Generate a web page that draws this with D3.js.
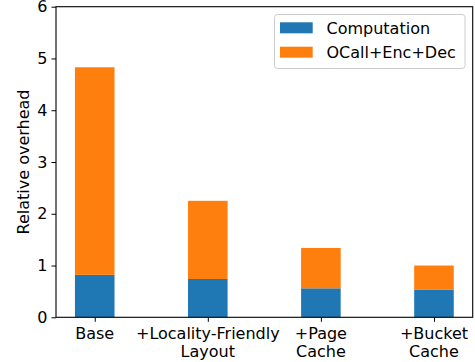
<!DOCTYPE html>
<html>
<head>
<meta charset="utf-8">
<script src="https://cdn.jsdelivr.net/npm/d3@7"></script>
<style>
  html, body { margin: 0; padding: 0; background: #fff; }
  svg { display: block; font-family: "DejaVu Sans", sans-serif; }
</style>
</head>
<body>
<svg id="chart" width="475" height="362"></svg>
<script>
// Stacked overhead breakdown per optimisation step
const categories = ["Base", "+Locality-Friendly\nLayout", "+Page\nCache", "+Bucket\nCache"];
const computation = [0.82, 0.74, 0.56, 0.53];
const ocallEncDec = [4.01, 1.51, 0.78, 0.47];
const seriesNames = ["Computation", "OCall+Enc+Dec"];
const seriesColors = ["#1f77b4", "#ff7f0e"];
const yTicks = [0, 1, 2, 3, 4, 5, 6];

const svg = d3.select("#chart");
const plot = { left: 56, right: 472.7, top: 6.7, bottom: 317.3 };
const barWidth = 0.35;
const n = categories.length;
const pad = 0.05 * (n - 1 + barWidth);

const x = d3.scaleLinear()
  .domain([-barWidth / 2 - pad, n - 1 + barWidth / 2 + pad])
  .range([plot.left, plot.right]);
const y = d3.scaleLinear().domain([0, 6]).range([plot.bottom, plot.top]);

const rows = categories.map((c, i) => ({ i, computation: computation[i], ocall: ocallEncDec[i] }));
const stacked = d3.stack().keys(["computation", "ocall"])(rows);

svg.append("g")
  .selectAll("g")
  .data(stacked)
  .join("g")
  .attr("fill", (d, k) => seriesColors[k])
  .selectAll("rect")
  .data(d => d)
  .join("rect")
  .attr("x", d => x(d.data.i - barWidth / 2))
  .attr("width", d => x(d.data.i + barWidth / 2) - x(d.data.i - barWidth / 2))
  .attr("y", d => y(d[1]))
  .attr("height", d => y(d[0]) - y(d[1]));

// Axes
const yAxis = d3.axisLeft(y).tickValues(yTicks).tickFormat(d3.format("d")).tickSize(4.5).tickPadding(4);
const gy = svg.append("g").attr("transform", `translate(${plot.left},0)`).call(yAxis);
gy.select(".domain").remove();
gy.selectAll("text").attr("font-size", 16).attr("font-family", "DejaVu Sans").attr("fill", "#000");
gy.selectAll("line").attr("stroke", "#000").attr("stroke-width", 1);

const xAxis = d3.axisBottom(x).tickValues(d3.range(n)).tickFormat("").tickSize(4.5);
const gx = svg.append("g").attr("transform", `translate(0,${plot.bottom})`).call(xAxis);
gx.select(".domain").remove();
gx.selectAll("line").attr("stroke", "#000").attr("stroke-width", 1);

// Multi-line category labels
const labels = svg.append("g").attr("font-size", 16).attr("fill", "#000").attr("text-anchor", "middle");
categories.forEach((c, i) => {
  c.split("\n").forEach((line, j) => {
    labels.append("text")
      .attr("x", x(i))
      .attr("y", 338.5 + j * 18)
      .text(line);
  });
});

// Frame
svg.append("rect")
  .attr("x", plot.left).attr("y", plot.top)
  .attr("width", plot.right - plot.left).attr("height", plot.bottom - plot.top)
  .attr("fill", "none").attr("stroke", "#000").attr("stroke-width", 1.1);

// Y label
svg.append("text")
  .attr("transform", `translate(29,${(plot.top + plot.bottom) / 2}) rotate(-90)`)
  .attr("text-anchor", "middle")
  .attr("font-size", 16)
  .attr("fill", "#000")
  .text("Relative overhead");

// Legend
const legend = svg.append("g");
legend.append("rect")
  .attr("x", 274.5).attr("y", 14.5).attr("width", 190.5).attr("height", 54)
  .attr("rx", 3).attr("fill", "#fff").attr("fill-opacity", 0.8)
  .attr("stroke", "#cccccc").attr("stroke-width", 1);
seriesNames.forEach((name, k) => {
  const cy = 27.8 + k * 24.4;
  legend.append("rect")
    .attr("x", 280).attr("y", cy - 5.5).attr("width", 32.7).attr("height", 11)
    .attr("fill", seriesColors[k]);
  legend.append("text")
    .attr("x", 326.5).attr("y", cy + 5.8)
    .attr("font-size", 16).attr("fill", "#000")
    .text(name);
});
</script>
</body>
</html>
